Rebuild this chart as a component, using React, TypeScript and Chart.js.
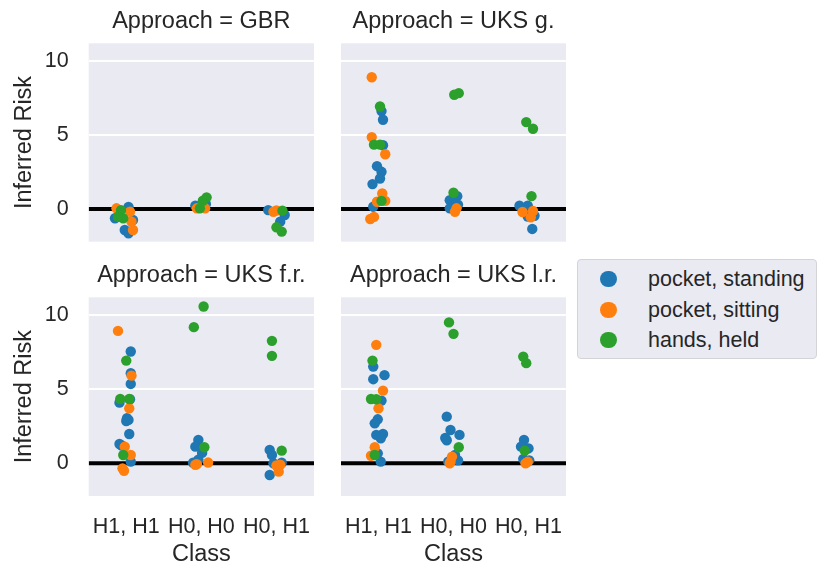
import { useEffect, useRef } from 'react';
import { Chart, registerables } from 'chart.js';

Chart.register(...registerables);

const approaches = ['GBR', 'UKS g.', 'UKS f.r.', 'UKS l.r.'];
const classes = ['H1, H1', 'H0, H0', 'H0, H1'];
const hues = ['pocket, standing', 'pocket, sitting', 'hands, held'];
const hueColors = ['#1f77b4', '#ff7f0e', '#2ca02c'];
const yTicks = [0, 5, 10];

// values per class (H1,H1 / H0,H0 / H0,H1), and the strip jitter
const gbrStanding = [[0.15, -0.62, -0.74, -1.41, -1.63], [0.22, 0.34], [-0.07, -0.4, -0.85]];
const gbrStandingJit = [[0.03, -0.15, 0.09, -0.02, 0.03], [-0.08, 0.06], [-0.11, 0.11, 0.05]];
const gbrSitting = [[0.05, -0.18, -0.85, -1.41], [0.05, 0.05], [-0.18, -0.1]];
const gbrSittingJit = [[-0.13, 0.05, 0.07, 0.09], [-0.06, 0.05], [-0.04, 0.0]];
const gbrHands = [[-0.07, -0.52, -0.63], [0.79, 0.56, 0.05], [-0.11, -1.23, -1.52]];
const gbrHandsJit = [[-0.07, -0.11, -0.04], [0.07, 0.02, -0.02], [0.08, 0.0, 0.07]];

const ukgStanding = [[6.6, 6.02, 4.3, 2.89, 2.51, 2.06, 1.68, 0.16], [0.87, 0.6, 0.3, 0.05], [0.22, 0.22, -0.45, -0.5, -1.34]];
const ukgStandingJit = [[0.04, 0.06, 0.06, -0.02, 0.04, 0.02, -0.08, -0.07], [0.05, -0.05, 0.06, -0.05], [-0.12, -0.01, 0.08, -0.01, 0.05]];
const ukgSitting = [[8.88, 4.85, 3.69, 1.05, 0.49, 0.55, -0.53, -0.67], [0.05, -0.18], [-0.2, -0.13, -0.56]];
const ukgSittingJit = [[-0.09, -0.09, 0.09, 0.05, -0.02, 0.09, -0.06, -0.11], [0.04, 0.02], [-0.08, 0.06, 0.03]];
const ukgHands = [[6.91, 4.34, 4.34, 0.55], [7.7, 7.81, 1.1], [5.86, 5.41, 0.87]];
const ukgHandsJit = [[0.02, -0.06, 0.02, 0.04], [0.01, 0.07, 0.0], [-0.03, 0.06, 0.04]];

const ukfStanding = [[7.52, 6.06, 5.34, 4.31, 4.08, 3.03, 2.92, 2.85, 1.97, 1.3, 1.2, 0.11], [1.57, 1.12, 0.7, 0.25, 0.04], [0.9, 0.56, 0.04, 0.0, -0.79]];
const ukfStandingJit = [[0.06, 0.06, 0.06, 0.05, -0.09, 0.01, 0.03, 0.0, 0.04, -0.09, -0.06, 0.06], [-0.04, -0.08, 0.01, -0.04, -0.11], [-0.09, -0.06, 0.07, -0.04, -0.09]];
const ukfSitting = [[8.91, 5.9, 3.7, 1.12, 0.56, -0.34, -0.5], [0.05, -0.06, -0.1], [-0.15, -0.1, -0.56]];
const ukfSittingJit = [[-0.11, 0.07, 0.04, -0.02, 0.06, -0.05, -0.03], [0.09, -0.06, -0.08], [0.0, 0.05, 0.03]];
const ukfHands = [[6.91, 4.33, 4.33, 0.56], [10.55, 9.16, 1.08], [8.24, 7.23, 0.85]];
const ukfHandsJit = [[0.0, -0.08, 0.04, -0.04], [0.03, -0.1, 0.04], [-0.06, -0.06, 0.07]];

const uklStanding = [[6.51, 5.93, 5.66, 4.22, 2.96, 2.69, 1.97, 1.91, 1.68, 0.67, 0.11], [3.14, 2.24, 1.91, 1.7, 1.55, 0.56, 0.2, 0.11], [1.57, 1.12, 1.0, 0.3, 0.2]];
const uklStandingJit = [[-0.07, 0.08, -0.07, 0.04, -0.01, -0.05, 0.06, -0.03, 0.03, -0.01, 0.03], [-0.09, -0.04, 0.08, -0.11, -0.09, 0.02, 0.06, -0.07], [-0.06, -0.1, 0.0, -0.07, 0.01]];
const uklSitting = [[7.97, 4.89, 3.7, 1.08, 0.51], [0.45, 0.11, 0.0], [0.0, 0.1]];
const uklSittingJit = [[-0.03, 0.06, 0.0, -0.05, -0.1], [-0.02, -0.04, -0.05], [-0.04, -0.01]];
const uklHands = [[6.91, 4.33, 4.31, 0.56], [9.48, 8.71, 1.08], [7.18, 6.74, 0.85]];
const uklHandsJit = [[-0.08, -0.1, -0.03, -0.05], [-0.06, 0.0, 0.07], [-0.07, -0.03, -0.05]];

const panelValues = [
  [gbrStanding, gbrSitting, gbrHands],
  [ukgStanding, ukgSitting, ukgHands],
  [ukfStanding, ukfSitting, ukfHands],
  [uklStanding, uklSitting, uklHands],
];
const panelJitter = [
  [gbrStandingJit, gbrSittingJit, gbrHandsJit],
  [ukgStandingJit, ukgSittingJit, ukgHandsJit],
  [ukfStandingJit, ukfSittingJit, ukfHandsJit],
  [uklStandingJit, uklSittingJit, uklHandsJit],
];

const W = 830;
const H = 581;
const colLeft = [88.7, 341];
const colRight = [314, 566];
const rowTop = [43.3, 297.3];
const rowBottom = [241.7, 496];
const FONT = '"Liberation Sans", Arial, sans-serif';
const TEXT = '#262626';

function Panel({ idx }: { idx: number }) {
  const canvasRef = useRef<HTMLCanvasElement>(null);
  const chartRef = useRef<Chart | null>(null);

  useEffect(() => {
    if (!canvasRef.current) return;
    const row = Math.floor(idx / 2);
    const col = idx % 2;

    const datasets: any[] = hues.map((h, hi) => ({
      label: h,
      data: classes.flatMap((_, ci) =>
        panelValues[idx][hi][ci].map((v, k) => ({ x: ci + panelJitter[idx][hi][ci][k], y: v }))
      ),
      backgroundColor: hueColors[hi],
      borderWidth: 0,
      pointRadius: 5.2,
      order: 3 - hi,
    }));
    datasets.push({
      label: 'zero',
      data: [{ x: -0.5, y: 0 }, { x: 2.5, y: 0 }],
      showLine: true,
      borderColor: '#000000',
      borderWidth: 4,
      pointRadius: 0,
      order: 10,
    });

    const facet = {
      id: 'facet',
      beforeDraw(chart: Chart) {
        const { ctx, chartArea } = chart;
        ctx.save();
        ctx.fillStyle = '#eaeaf2';
        ctx.fillRect(chartArea.left, chartArea.top, chartArea.right - chartArea.left, chartArea.bottom - chartArea.top);
        ctx.restore();
      },
      afterDraw(chart: Chart) {
        const { ctx, chartArea } = chart;
        ctx.save();
        ctx.fillStyle = TEXT;
        ctx.font = `23.5px ${FONT}`;
        ctx.textAlign = 'center';
        ctx.textBaseline = 'middle';
        ctx.fillText(`Approach = ${approaches[idx]}`, (chartArea.left + chartArea.right) / 2, chartArea.top - 21.3);
        ctx.restore();
      },
    };

    chartRef.current = new Chart(canvasRef.current, {
      type: 'scatter',
      data: { datasets },
      plugins: [facet],
      options: {
        responsive: false,
        animation: false,
        events: [],
        layout: {
          autoPadding: false,
          padding: {
            left: col === 0 ? 0 : colLeft[1],
            right: W - colRight[col],
            top: rowTop[row],
            bottom: row === 1 ? 0 : H - rowBottom[0],
          },
        },
        plugins: { legend: { display: false }, tooltip: { enabled: false }, title: { display: false } },
        scales: {
          x: {
            type: 'linear',
            min: -0.5,
            max: 2.5,
            afterBuildTicks: (s: any) => {
              s.ticks = classes.map((_, i) => ({ value: i }));
            },
            afterFit: (s: any) => {
              s.height = row === 1 ? H - rowBottom[1] : 0;
            },
            grid: { display: false, drawTicks: false },
            border: { display: false },
            ticks: {
              display: row === 1,
              padding: 18,
              color: TEXT,
              font: { family: FONT, size: 21.5 },
              maxRotation: 0,
              autoSkip: false,
              callback: (v: any) => classes[Math.round(Number(v))] ?? '',
            },
            title: {
              display: row === 1,
              text: 'Class',
              color: TEXT,
              font: { family: FONT, size: 23.5 },
              padding: { top: 0, bottom: 12 },
            },
          },
          y: {
            type: 'linear',
            min: -2.2,
            max: 11.17,
            afterBuildTicks: (s: any) => {
              s.ticks = yTicks.map((v) => ({ value: v }));
            },
            afterFit: (s: any) => {
              s.width = col === 0 ? colLeft[0] : 0;
            },
            grid: { color: '#ffffff', lineWidth: 2, drawTicks: false },
            border: { display: false },
            ticks: {
              display: col === 0,
              padding: 20,
              color: TEXT,
              font: { family: FONT, size: 21.5 },
            },
            title: {
              display: col === 0,
              text: 'Inferred Risk',
              color: TEXT,
              font: { family: FONT, size: 23.5 },
              padding: { top: 10, bottom: 0 },
            },
          },
        },
      } as any,
    });

    return () => {
      if (chartRef.current) {
        chartRef.current.destroy();
        chartRef.current = null;
      }
    };
  }, [idx]);

  return (
    <canvas
      ref={canvasRef}
      width={W}
      height={H}
      style={{ position: 'absolute', left: 0, top: 0, width: W, height: H }}
    />
  );
}

function Legend() {
  const rowCenters = [19, 50, 80];
  return (
    <div
      style={{
        position: 'absolute',
        left: 577,
        top: 259,
        width: 238,
        height: 98,
        background: '#eaeaf2',
        border: '1px solid #d3d3d8',
        borderRadius: 4,
        fontFamily: FONT,
        fontSize: 21.5,
        color: TEXT,
      }}
    >
      {hues.map((h, i) => (
        <div key={h} style={{ position: 'absolute', left: 0, top: rowCenters[i] - 13, height: 26, width: '100%' }}>
          <div
            style={{
              position: 'absolute',
              left: 22,
              top: 4.7,
              width: 16.6,
              height: 16.6,
              borderRadius: '50%',
              background: hueColors[i],
            }}
          />
          <span style={{ position: 'absolute', left: 70, top: 0, lineHeight: '26px', whiteSpace: 'nowrap' }}>{h}</span>
        </div>
      ))}
    </div>
  );
}

export default function App() {
  return (
    <div style={{ position: 'absolute', left: 0, top: 0, width: W, height: H, background: '#ffffff' }}>
      {approaches.map((_, i) => (
        <Panel key={i} idx={i} />
      ))}
      <Legend />
    </div>
  );
}
